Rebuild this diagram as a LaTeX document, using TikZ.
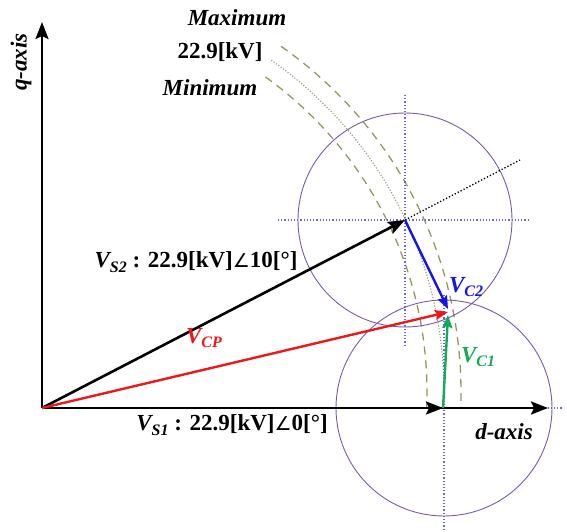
\documentclass[tikz,border=0pt]{standalone}
\usepackage{fontspec}
\setmainfont{Liberation Serif}
\newfontfamily\symfnt{DejaVu Sans}
\usetikzlibrary{arrows.meta}
\definecolor{circ}{RGB}{120,90,170}
\definecolor{crossc}{RGB}{105,105,205}
\definecolor{arcol}{RGB}{150,150,95}
\definecolor{dotarc}{RGB}{150,150,120}
\definecolor{vred}{RGB}{235,25,25}
\definecolor{vblue}{RGB}{20,20,235}
\definecolor{vgreen}{RGB}{20,170,90}
\newcommand{\mysub}[1]{\raisebox{-0.45ex}{\fontsize{16}{16}\selectfont #1}}
\newcommand{\myang}{{\symfnt\mdseries\upshape\fontsize{19}{19}\selectfont ∠}}
\tikzset{
  lbl/.style={font=\fontsize{23}{23}\selectfont\bfseries\itshape, inner sep=0pt},
  lblup/.style={font=\fontsize{23}{23}\selectfont\bfseries, inner sep=0pt},
  bigarrow/.style={line width=2.6pt, -{Stealth[length=17pt,width=13pt,inset=3pt]}},
  vecarrow/.style={line width=2.4pt, -{Stealth[length=13pt,width=10pt,inset=2pt]}},
  circline/.style={draw=circ, line width=0.9pt},
  crossline/.style={draw=crossc, line width=1.2pt, dash pattern=on 1.2pt off 2pt},
  limitarc/.style={draw=arcol, line width=1.3pt, dash pattern=on 8pt off 6pt},
  ratedarc/.style={draw=dotarc, line width=1.1pt, dash pattern=on 1.1pt off 1.8pt},
  extline/.style={draw=black, line width=1.3pt, dash pattern=on 1.3pt off 2pt}
}
\begin{document}
\begin{tikzpicture}[x=1pt,y=1pt]
\useasboundingbox (0,0) rectangle (567,-532);
% key points
\coordinate (O) at (42,-408);
\coordinate (dEnd) at (548,-408);
\coordinate (qEnd) at (42,-22);
\coordinate (S1) at (443,-408);
\coordinate (S2) at (405,-220);
\coordinate (P) at (448,-312);
\coordinate (ext) at (520,-160);
\coordinate (C1c) at (444,-408);
% voltage limit arcs
\begin{scope}[shift={(39,-392)}]
  \draw[limitarc] (55:422) arc[start angle=55, end angle=-2.2, radius=422];
  \draw[ratedarc] (55:405) arc[start angle=55, end angle=-2.3, radius=405];
  \draw[limitarc] (54.3:388) arc[start angle=54.3, end angle=-2.4, radius=388];
\end{scope}
% circles
\draw[circline] (S2) circle[radius=107];
\draw[circline] (C1c) circle[radius=108];
% dotted cross lines
\draw[crossline] (278,-220) -- (530,-220);
\draw[crossline] (405,-95) -- (405,-345);
\draw[crossline] (444,-295) -- (444,-532);
\draw[crossline] (330,-408) -- (562,-408);
\draw[extline] (S2) -- (ext);
% axes
\draw[bigarrow] (O) -- (dEnd);
\draw[bigarrow] (O) -- (qEnd);
% vectors
\draw[bigarrow] (O) -- (S1);
\draw[bigarrow] (O) -- (S2);
\draw[vecarrow, vred] (O) -- (P);
\draw[vecarrow, vblue] (S2) -- (448,-309);
\draw[vecarrow, vgreen] (S1) -- (448,-315);
% labels
\node[lbl] (tmax) at (237,-18) {Maximum};
\node[lblup] (trated) at (220,-52) {22.9[kV]};
\node[lbl] (tmin) at (210,-88) {Minimum};
\node[lbl, rotate=90] (tq) at (21,-62) {q-axis};
\node[lbl] (td) at (504,-432) {d-axis};
\node[lblup] (tvs2) at (196,-262) {\textit{V\mysub{S2}} : 22.9[kV]\myang10[°]};
\node[lblup] (tvs1) at (232,-425) {\textit{V\mysub{S1}} : 22.9[kV]\myang0[°]};
\node[lbl, text=vred] (tcp) at (204,-338) {V\mysub{CP}};
\node[lbl, text=vblue] (tc2) at (466,-287) {V\mysub{C2}};
\node[lbl, text=vgreen] (tc1) at (478,-357) {V\mysub{C1}};
\end{tikzpicture}
\end{document}
